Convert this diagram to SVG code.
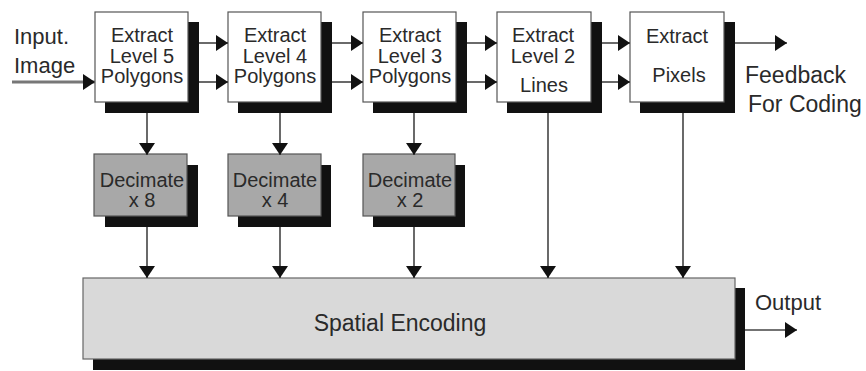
<svg xmlns="http://www.w3.org/2000/svg" width="866" height="371" viewBox="0 0 866 371">
  <style>
    .txt { font-family: "Liberation Sans", Arial, sans-serif; fill: #2a2a2a; }
    .box { font-size: 20px; text-anchor: middle; }
    .big { font-size: 22px; }
    .shadow { fill: #111; }
    .white { fill: #fff; stroke: #555; stroke-width: 1.2; }
    .dec { fill: #a8a8a8; stroke: #555; stroke-width: 1.2; }
    .enc { fill: #d9d9d9; stroke: #666; stroke-width: 1.2; }
    .conn { stroke: #444; stroke-width: 1.6; fill: none; marker-end: url(#head); }
  </style>
  <defs>
    <marker id="head" viewBox="0 0 12 16" refX="12" refY="8" markerWidth="12" markerHeight="16" markerUnits="userSpaceOnUse" orient="auto">
      <path d="M0,0 L12,8 L0,16 z" fill="#111"/>
    </marker>
  </defs>
  <rect width="866" height="371" fill="#fff"/>

  <!-- extraction stages -->
  <g id="extract5">
    <rect class="shadow" x="105" y="22" width="94" height="91"/>
    <rect class="white" x="95" y="12" width="93" height="90"/>
    <text class="txt box" x="142" y="42">Extract</text>
    <text class="txt box" x="142" y="63">Level 5</text>
    <text class="txt box" x="142" y="83">Polygons</text>
  </g>
  <g id="extract4">
    <rect class="shadow" x="238" y="22" width="94" height="91"/>
    <rect class="white" x="228" y="12" width="93" height="90"/>
    <text class="txt box" x="275" y="42">Extract</text>
    <text class="txt box" x="275" y="63">Level 4</text>
    <text class="txt box" x="275" y="83">Polygons</text>
  </g>
  <g id="extract3">
    <rect class="shadow" x="373" y="22" width="94" height="91"/>
    <rect class="white" x="363" y="12" width="93" height="90"/>
    <text class="txt box" x="410" y="42">Extract</text>
    <text class="txt box" x="410" y="63">Level 3</text>
    <text class="txt box" x="410" y="83">Polygons</text>
  </g>
  <g id="extract2">
    <rect class="shadow" x="507" y="22" width="95" height="91"/>
    <rect class="white" x="497" y="12" width="94" height="90"/>
    <text class="txt box" x="543" y="42">Extract</text>
    <text class="txt box" x="543" y="63">Level 2</text>
    <text class="txt box" x="544" y="92">Lines</text>
  </g>
  <g id="extractPixels">
    <rect class="shadow" x="640" y="22" width="95" height="91"/>
    <rect class="white" x="630" y="12" width="94" height="90"/>
    <text class="txt box" x="677" y="43">Extract</text>
    <text class="txt box" x="679" y="82">Pixels</text>
  </g>

  <!-- decimation stages -->
  <g id="decimate8">
    <rect class="shadow" x="105" y="165" width="93" height="62"/>
    <rect class="dec" x="94" y="154" width="93" height="62"/>
    <text class="txt box" x="142" y="187">Decimate</text>
    <text class="txt box" x="142" y="207">x 8</text>
  </g>
  <g id="decimate4">
    <rect class="shadow" x="238" y="165" width="93" height="62"/>
    <rect class="dec" x="228" y="154" width="93" height="62"/>
    <text class="txt box" x="275" y="187">Decimate</text>
    <text class="txt box" x="275" y="207">x 4</text>
  </g>
  <g id="decimate2">
    <rect class="shadow" x="373" y="165" width="92" height="62"/>
    <rect class="dec" x="363" y="154" width="92" height="62"/>
    <text class="txt box" x="410" y="187">Decimate</text>
    <text class="txt box" x="410" y="207">x 2</text>
  </g>

  <!-- encoder -->
  <g id="spatialEncoding">
    <rect class="shadow" x="93" y="288" width="652" height="82"/>
    <rect class="enc" x="83" y="278" width="652" height="81"/>
    <text class="txt" x="400" y="331" font-size="23" text-anchor="middle">Spatial Encoding</text>
  </g>

  <!-- free labels -->
  <g id="labels">
    <text class="txt big" x="14" y="44">Input.</text>
    <text class="txt big" x="14" y="73">Image</text>
    <text class="txt" x="745" y="83" font-size="23">Feedback</text>
    <text class="txt" x="748" y="112" font-size="23">For Coding</text>
    <text class="txt big" x="755" y="310">Output</text>
  </g>

  <!-- connectors -->
  <g id="connectors">
    <line x1="12" y1="82" x2="95" y2="82" stroke="#777" stroke-width="3" marker-end="url(#head)"/>
    <line class="conn" x1="199" y1="43" x2="228" y2="43"/>
    <line class="conn" x1="199" y1="82" x2="228" y2="82"/>
    <line class="conn" x1="332" y1="43" x2="363" y2="43"/>
    <line class="conn" x1="332" y1="82" x2="363" y2="82"/>
    <line class="conn" x1="467" y1="43" x2="497" y2="43"/>
    <line class="conn" x1="467" y1="82" x2="497" y2="82"/>
    <line class="conn" x1="602" y1="43" x2="630" y2="43"/>
    <line class="conn" x1="602" y1="82" x2="630" y2="82"/>
    <line class="conn" x1="735" y1="43" x2="787" y2="43"/>
    <line class="conn" x1="147" y1="113" x2="147" y2="155"/>
    <line class="conn" x1="280" y1="113" x2="280" y2="155"/>
    <line class="conn" x1="414" y1="113" x2="414" y2="155"/>
    <line class="conn" x1="147" y1="227" x2="147" y2="278"/>
    <line class="conn" x1="280" y1="227" x2="280" y2="278"/>
    <line class="conn" x1="414" y1="227" x2="414" y2="278"/>
    <line class="conn" x1="548" y1="113" x2="548" y2="278"/>
    <line class="conn" x1="683" y1="113" x2="683" y2="278"/>
    <line class="conn" x1="745" y1="330" x2="797" y2="330"/>
  </g>
</svg>
